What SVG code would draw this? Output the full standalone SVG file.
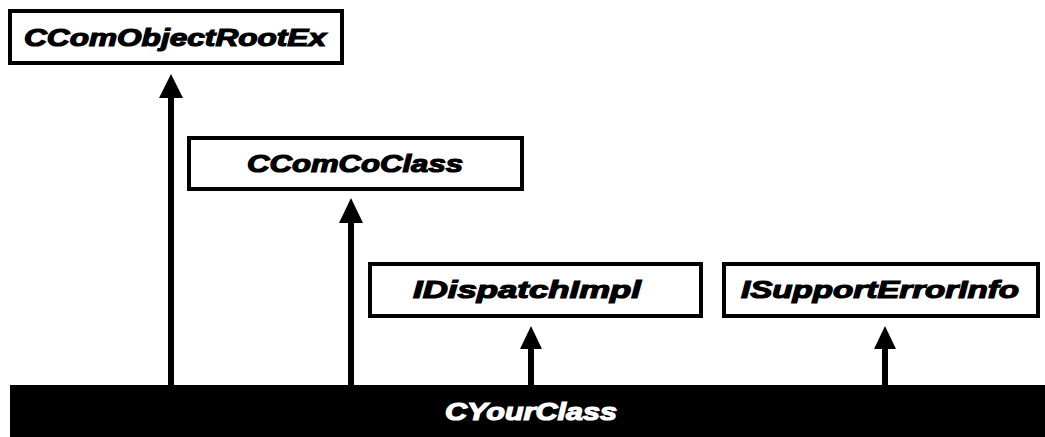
<svg xmlns="http://www.w3.org/2000/svg" width="1045" height="437" viewBox="0 0 1045 437">
<style>
.box{fill:#fff;stroke:#000;stroke-width:4}
.lbl{font-family:"Liberation Sans",Arial,sans-serif;font-weight:bold;font-style:italic;font-size:24px;fill:#000;stroke:#000;stroke-width:1.2;text-anchor:middle}
.wlbl{fill:#fff;stroke:#fff}
.conn{stroke:#000;stroke-width:6;fill:none}
.head{fill:#000}
</style>
<rect width="1045" height="437" fill="#fff"/>
<g id="CComObjectRootEx">
<rect class="box" x="10" y="11" width="332" height="52"/>
<text class="lbl" x="175" y="46" textLength="302" lengthAdjust="spacingAndGlyphs">CComObjectRootEx</text>
</g>
<g id="CComCoClass">
<rect class="box" x="189" y="138" width="333" height="51"/>
<text class="lbl" x="355" y="172" textLength="216" lengthAdjust="spacingAndGlyphs">CComCoClass</text>
</g>
<g id="IDispatchImpl">
<rect class="box" x="370" y="264" width="331" height="52"/>
<text class="lbl" x="527" y="298" textLength="228" lengthAdjust="spacingAndGlyphs">IDispatchImpl</text>
</g>
<g id="ISupportErrorInfo">
<rect class="box" x="724" y="264" width="314" height="52"/>
<text class="lbl" x="880" y="298" textLength="278" lengthAdjust="spacingAndGlyphs">ISupportErrorInfo</text>
</g>
<g id="CYourClass">
<rect x="10" y="385" width="1035" height="52" fill="#000"/>
<text class="lbl wlbl" x="531" y="420" textLength="172" lengthAdjust="spacingAndGlyphs">CYourClass</text>
</g>
<g id="connectors">
<line class="conn" x1="171" y1="385" x2="171" y2="95"/>
<polygon class="head" points="171,74 183,98 159,98"/>
<line class="conn" x1="351" y1="385" x2="351" y2="220"/>
<polygon class="head" points="351,198 363,223 339,223"/>
<line class="conn" x1="531" y1="385" x2="531" y2="345"/>
<polygon class="head" points="531,326 542,349 520,349"/>
<line class="conn" x1="885" y1="385" x2="885" y2="345"/>
<polygon class="head" points="885,326 896,349 874,349"/>
</g>
</svg>
